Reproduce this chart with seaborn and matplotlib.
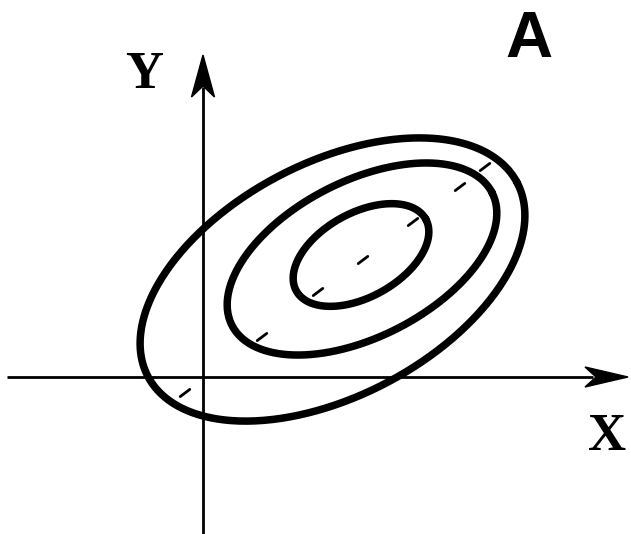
import numpy as np
import pandas as pd
import matplotlib
matplotlib.use("Agg")
import matplotlib.pyplot as plt
from matplotlib.patches import Polygon
import seaborn as sns

# Contour ellipses of a correlated bivariate density (inner -> outer)
ring_names = ["inner", "middle", "outer"]
center_x = [15.8, 15.9, 12.95]
center_y = [12.2, 11.8, 9.75]
semi_major = [7.4, 14.6, 20.85]
semi_minor = [4.2, 7.8, 11.66]
tilt_deg = [29.0, 27.0, 27.7]

# Short marks along the principal axis
axis_mark_x = [-1.8, 5.9, 11.5, 16.0, 21.0, 25.7, 28.2]
axis_mark_y = [-1.6, 4.0, 8.5, 11.7, 15.5, 19.0, 21.0]
axis_mark_angle = 37.0

x_label, y_label, panel_label = "X", "Y", "A"

sns.set_theme(style="white")

fig = plt.figure(figsize=(6.31, 5.34), dpi=100)
ax = fig.add_axes([0, 0, 1, 1])
ax.set_xlim(-20.3, 42.8)
ax.set_ylim(-15.7, 37.7)
ax.axis("off")

# Build ellipse outlines from their parameters
t = np.linspace(0, 2 * np.pi, 400)
frames = []
for name, cx, cy, a, b, th in zip(ring_names, center_x, center_y,
                                  semi_major, semi_minor, tilt_deg):
    r = np.deg2rad(th)
    ex = cx + a * np.cos(t) * np.cos(r) - b * np.sin(t) * np.sin(r)
    ey = cy + a * np.cos(t) * np.sin(r) + b * np.sin(t) * np.cos(r)
    frames.append(pd.DataFrame({"x": ex, "y": ey, "ring": name,
                                "order": np.arange(len(t))}))
rings = pd.concat(frames, ignore_index=True)

sns.lineplot(data=rings, x="x", y="y", units="ring", estimator=None,
             sort=False, color="black", linewidth=5.4, ax=ax, legend=False)

# Principal-axis dash marks
half = 0.6
ang = np.deg2rad(axis_mark_angle)
dash_rows = []
for i, (mx, my) in enumerate(zip(axis_mark_x, axis_mark_y)):
    for s in (-half, half):
        dash_rows.append({"x": mx + s * np.cos(ang), "y": my + s * np.sin(ang),
                          "dash": i})
dashes = pd.DataFrame(dash_rows)
sns.lineplot(data=dashes, x="x", y="y", units="dash", estimator=None,
             sort=False, color="black", linewidth=2.0, ax=ax, legend=False)

# Coordinate axes with arrowheads
ax.plot([-19.6, 39.0], [0, 0], color="black", lw=2.0, solid_capstyle="butt")
ax.plot([0, 0], [-15.7, 29.0], color="black", lw=2.0, solid_capstyle="butt")
ax.add_patch(Polygon([[42.5, 0], [38.2, 1.0], [39.3, 0], [38.2, -1.0]],
                     closed=True, color="black", lw=1.0))
ax.add_patch(Polygon([[0, 32.2], [-1.15, 28.0], [0, 29.1], [1.15, 28.0]],
                     closed=True, color="black", lw=1.0))

# Labels
ax.text(-5.9, 28.9, y_label, family="Liberation Serif", fontweight="bold",
        fontsize=38, ha="center", va="baseline", color="black")
ax.text(40.4, -7.3, x_label, family="Liberation Serif", fontweight="bold",
        fontsize=38, ha="center", va="baseline", color="black")
ax.text(32.6, 32.0, panel_label, family="Liberation Sans", fontweight="bold",
        fontsize=47, ha="center", va="baseline", color="black")

fig.savefig("out.png", dpi=100, facecolor="white")
